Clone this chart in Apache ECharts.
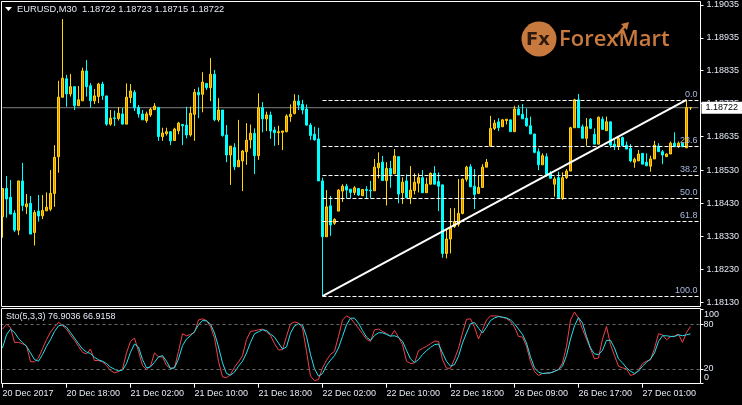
<!DOCTYPE html>
<html><head><meta charset="utf-8">
<script src="https://cdn.jsdelivr.net/npm/echarts@6/dist/echarts.min.js"></script>
<style>html,body{margin:0;padding:0;background:#000;}#c{width:742px;height:405px;}</style>
</head><body><div id="c"></div>
<script>
// ---- data (EURUSD M30 bars) ----
const tickLabels = ['20 Dec 2017','20 Dec 18:00','21 Dec 02:00','21 Dec 10:00','21 Dec 18:00','22 Dec 02:00','22 Dec 10:00','22 Dec 18:00','26 Dec 09:00','26 Dec 17:00','27 Dec 01:00'];
const barsPerTick = 16;
const priceTicks = [1.19035,1.18935,1.18835,1.18735,1.18635,1.18530,1.18430,1.18330,1.18230,1.18130];
const stochTicks = [100,80,20,0];
const stochLevels = [80,20];
const fibLevels = [0,23.6,38.2,50,61.8,100];
const fibLowBar = 80, fibHighBar = 171;
const bidPrice = 1.18722;
const emptySlots = 2;

const open = [1.18390,1.18476,1.18449,1.18401,1.18349,1.18499,1.18420,1.18431,1.18342,1.18407,
1.18393,1.18408,1.18413,1.18461,1.18573,1.18754,1.18810,1.18764,1.18786,1.18728,
1.18743,1.18834,1.18789,1.18743,1.18756,1.18794,1.18758,1.18672,1.18691,1.18689,
1.18703,1.18672,1.18753,1.18769,1.18723,1.18703,1.18683,1.18700,1.18716,1.18723,
1.18634,1.18643,1.18649,1.18622,1.18652,1.18671,1.18669,1.18639,1.18702,1.18769,
1.18763,1.18796,1.18783,1.18824,1.18685,1.18715,1.18639,1.18578,1.18601,1.18542,
1.18560,1.18588,1.18624,1.18644,1.18576,1.18722,1.18688,1.18700,1.18654,1.18646,
1.18647,1.18649,1.18695,1.18704,1.18742,1.18732,1.18718,1.18669,1.18641,1.18627,
1.18499,1.18329,1.18423,1.18370,1.18407,1.18468,1.18483,1.18474,1.18464,1.18476,
1.18454,1.18473,1.18471,1.18469,1.18539,1.18556,1.18500,1.18537,1.18521,1.18573,
1.18463,1.18499,1.18448,1.18470,1.18492,1.18509,1.18463,1.18489,1.18522,1.18497,
1.18487,1.18278,1.18322,1.18360,1.18367,1.18400,1.18504,1.18542,1.18483,1.18461,
1.18479,1.18541,1.18605,1.18659,1.18679,1.18664,1.18683,1.18685,1.18649,1.18718,
1.18702,1.18690,1.18667,1.18642,1.18588,1.18548,1.18573,1.18522,1.18489,1.18509,
1.18446,1.18509,1.18529,1.18661,1.18746,1.18664,1.18629,1.18687,1.18641,1.18611,
1.18687,1.18652,1.18679,1.18611,1.18606,1.18631,1.18608,1.18598,1.18556,1.18560,
1.18583,1.18556,1.18544,1.18566,1.18605,1.18588,1.18573,1.18581,1.18614,1.18603,
1.18614,1.18600,1.18722];
const high = [1.18476,1.18514,1.18502,1.18410,1.18499,1.18554,1.18459,1.18453,1.18410,1.18456,
1.18456,1.18464,1.18532,1.18608,1.18804,1.18992,1.18822,1.18825,1.18786,1.18788,
1.18844,1.18867,1.18797,1.18779,1.18798,1.18801,1.18758,1.18715,1.18713,1.18724,
1.18721,1.18796,1.18794,1.18776,1.18730,1.18715,1.18710,1.18722,1.18736,1.18723,
1.18661,1.18661,1.18651,1.18661,1.18679,1.18671,1.18725,1.18725,1.18779,1.18784,
1.18830,1.18796,1.18873,1.18837,1.18751,1.18715,1.18669,1.18605,1.18614,1.18685,
1.18593,1.18675,1.18671,1.18659,1.18766,1.18739,1.18710,1.18710,1.18664,1.18667,
1.18651,1.18702,1.18732,1.18763,1.18761,1.18746,1.18732,1.18675,1.18664,1.18661,
1.18509,1.18471,1.18453,1.18385,1.18474,1.18489,1.18490,1.18474,1.18483,1.18476,
1.18473,1.18483,1.18499,1.18566,1.18586,1.18575,1.18556,1.18560,1.18596,1.18573,
1.18510,1.18519,1.18544,1.18522,1.18522,1.18532,1.18509,1.18525,1.18544,1.18525,
1.18487,1.18353,1.18416,1.18416,1.18505,1.18507,1.18545,1.18550,1.18535,1.18517,
1.18550,1.18566,1.18697,1.18685,1.18690,1.18687,1.18687,1.18685,1.18728,1.18730,
1.18733,1.18720,1.18695,1.18642,1.18598,1.18583,1.18583,1.18529,1.18512,1.18527,
1.18525,1.18535,1.18664,1.18749,1.18764,1.18671,1.18690,1.18690,1.18659,1.18695,
1.18695,1.18695,1.18679,1.18624,1.18634,1.18634,1.18619,1.18611,1.18570,1.18593,
1.18583,1.18583,1.18576,1.18621,1.18614,1.18593,1.18583,1.18619,1.18647,1.18619,
1.18614,1.18746,1.18723];
const low = [1.18326,1.18387,1.18398,1.18343,1.18334,1.18407,1.18398,1.18337,1.18302,1.18375,
1.18383,1.18407,1.18407,1.18420,1.18524,1.18754,1.18725,1.18756,1.18715,1.18728,
1.18743,1.18756,1.18722,1.18733,1.18736,1.18746,1.18667,1.18667,1.18666,1.18683,
1.18672,1.18672,1.18736,1.18712,1.18692,1.18685,1.18676,1.18694,1.18716,1.18621,
1.18621,1.18637,1.18608,1.18622,1.18641,1.18608,1.18629,1.18634,1.18621,1.18690,
1.18708,1.18776,1.18742,1.18681,1.18679,1.18634,1.18556,1.18487,1.18532,1.18542,
1.18468,1.18548,1.18598,1.18520,1.18563,1.18647,1.18651,1.18627,1.18606,1.18608,
1.18593,1.18647,1.18679,1.18702,1.18715,1.18702,1.18667,1.18624,1.18622,1.18499,
1.18148,1.18328,1.18332,1.18365,1.18407,1.18435,1.18446,1.18446,1.18456,1.18453,
1.18454,1.18446,1.18446,1.18469,1.18507,1.18500,1.18424,1.18478,1.18521,1.18431,
1.18429,1.18448,1.18429,1.18458,1.18464,1.18463,1.18463,1.18489,1.18489,1.18407,
1.18265,1.18263,1.18278,1.18356,1.18360,1.18397,1.18497,1.18481,1.18413,1.18459,
1.18479,1.18541,1.18605,1.18654,1.18651,1.18664,1.18671,1.18649,1.18649,1.18700,
1.18688,1.18664,1.18642,1.18583,1.18532,1.18548,1.18512,1.18507,1.18451,1.18446,
1.18441,1.18505,1.18529,1.18661,1.18661,1.18629,1.18606,1.18659,1.18611,1.18611,
1.18656,1.18652,1.18600,1.18593,1.18593,1.18606,1.18596,1.18556,1.18539,1.18560,
1.18550,1.18545,1.18527,1.18566,1.18588,1.18550,1.18573,1.18581,1.18603,1.18600,
1.18603,1.18599,1.18715];
const close = [1.18476,1.18444,1.18398,1.18349,1.18499,1.18424,1.18429,1.18337,1.18403,1.18392,
1.18409,1.18419,1.18461,1.18571,1.18754,1.18812,1.18764,1.18786,1.18728,1.18746,
1.18834,1.18786,1.18743,1.18758,1.18794,1.18759,1.18672,1.18690,1.18689,1.18705,
1.18672,1.18754,1.18773,1.18722,1.18703,1.18685,1.18703,1.18717,1.18727,1.18634,
1.18645,1.18649,1.18621,1.18657,1.18675,1.18667,1.18639,1.18705,1.18769,1.18761,
1.18800,1.18783,1.18824,1.18685,1.18715,1.18637,1.18578,1.18605,1.18542,1.18562,
1.18590,1.18623,1.18644,1.18576,1.18722,1.18688,1.18700,1.18651,1.18646,1.18649,
1.18651,1.18697,1.18702,1.18742,1.18730,1.18715,1.18669,1.18637,1.18624,1.18499,
1.18329,1.18420,1.18365,1.18382,1.18471,1.18483,1.18471,1.18464,1.18478,1.18456,
1.18473,1.18470,1.18469,1.18541,1.18553,1.18500,1.18537,1.18519,1.18575,1.18459,
1.18495,1.18448,1.18471,1.18495,1.18509,1.18463,1.18489,1.18522,1.18489,1.18483,
1.18278,1.18322,1.18356,1.18375,1.18400,1.18504,1.18541,1.18481,1.18458,1.18479,
1.18541,1.18556,1.18659,1.18675,1.18661,1.18685,1.18687,1.18649,1.18718,1.18700,
1.18688,1.18667,1.18642,1.18586,1.18548,1.18576,1.18515,1.18507,1.18505,1.18448,
1.18509,1.18529,1.18661,1.18746,1.18661,1.18629,1.18664,1.18659,1.18611,1.18693,
1.18656,1.18679,1.18608,1.18603,1.18629,1.18606,1.18596,1.18560,1.18565,1.18581,
1.18550,1.18545,1.18566,1.18608,1.18588,1.18578,1.18581,1.18614,1.18603,1.18614,
1.18603,1.18722,1.18722];
const stochK = [73.3,80,75.5,55.5,55.5,53.7,51.1,29.7,29.3,34.6,
47.1,59.1,69.3,76.4,82.6,78.2,73.3,65.3,58.2,50.2,
42.2,40,46.6,31.1,31.1,29.3,24.4,17.7,14.6,16.4,
20,41.3,56.9,61.3,43.5,24.4,19.1,23.5,41.3,36,
36,24.4,20.8,21.3,43.5,67.1,64.4,66.2,68.8,85.7,
87.1,84.8,76.8,61.3,30.2,9.3,8,12.4,22.2,29.3,
37.7,59.1,70.2,71.1,72.4,73.3,69.7,64.8,53.7,45.3,
45.7,63.5,80.4,83.1,81.3,74.6,43.5,10.2,4,5.7,
21.3,31.5,39.5,43.5,63.5,85.7,91.1,88,81.3,74.6,
67.1,59.9,56.9,72.4,73.3,70.2,67.5,63.5,71.5,62.6,
52.4,30.2,27.1,28,44.4,47.5,50.2,53.7,57.3,56.9,
32.4,20.8,20.8,33.3,47.5,68,86.6,87.1,76,60,
72.4,85.7,91.1,91.1,90.6,89.3,87.5,83.5,76,63.5,
62.6,50.2,29.7,16.4,11.1,13.7,14.2,14.6,16.8,19.1,
27.8,50.2,85.7,96.4,88,73.3,60,46.6,33.3,34.6,
60,76.8,52.4,37.7,23.5,21.3,20,11.1,12.9,18.2,
27.1,30.2,32,47.5,67.1,65.7,59.1,63.1,64,66.6,
55.5,68.8,76.9];
const stochD = [48,65.7,73.3,68.8,60.8,55.5,50.2,41.3,32.4,30.2,
39.1,50.2,59.1,70.2,77.7,79.1,76,68.8,61.3,53.7,
46.6,42.6,40.4,35.5,32,30.2,27.1,22.2,19.5,17.3,
18.2,27.1,42.2,53.3,49.3,32.4,21.3,22.6,28.8,36,
37.7,30.2,20.4,21.3,33.3,51.1,60,64.4,70.2,79.1,
84.8,84.4,80,68,49.3,28,13.7,11.5,15.5,23.5,
30.2,41.3,55.5,67.1,69.7,72.4,71.5,66.6,62.6,54.6,
46.6,49.3,68,77.7,80.4,78.6,63.5,39.1,20,10.2,
13.7,24.4,31.5,37.7,48,63.5,79.1,88,88,81.3,
71.5,62.6,58.2,64.8,68.4,68.4,66.2,64,64.4,62.2,
56.9,44.9,33.3,28.4,32.4,39.1,44.4,48.8,52.4,53.3,
41.3,30.2,23.5,25.7,36.8,54.6,68,80.4,82.2,74.6,
68,76,84.8,88.4,90.2,89.3,88.4,85.7,80.4,73.3,
66.2,54.6,36,21.3,15.5,13.7,14.2,14.6,16.4,19.1,
23.5,37.7,60,77.7,88.8,81.3,63.5,48,40,39.1,
44.9,58.2,58.2,48,33.3,28,21.3,16.8,13.7,16.8,
23.5,28.8,33.3,41.3,56.9,64.4,64.4,63.5,63.5,65.7,
64.4,65.7,66.9];

// ---- chart ----
const n = open.length;
const slots = n + emptySlots;
const cats = Array.from({length: slots}, (_, i) => String(i));
const isTick = i => i % barsPerTick === 0 && (i / barsPerTick) < tickLabels.length;
const fibLo = low[fibLowBar], fibHi = high[fibHighBar];
const FONT = 'Liberation Sans';
const TXT = '#E4E9F5';
const candles = open.map((o, i) => [o, close[i], low[i], high[i]]);
const innerStoch = stochTicks.filter(v => v > 0 && v < 100);

// sub-window value range (grid spans slightly beyond 0..100, as in the terminal)
const subMin = -0.4, subMax = 101.7, subTop = 308, subH = 76;
const subY = v => subTop + (subMax - v) / (subMax - subMin) * subH;

const chart = echarts.init(document.getElementById('c'));
chart.setOption({
  backgroundColor: '#000',
  animation: false,
  grid: [
    {left: 0.5, width: 700, top: 2, height: 304, outerBoundsMode: 'none'},
    {left: 0.5, width: 700, top: subTop, height: subH, outerBoundsMode: 'none'}
  ],
  xAxis: [
    {type: 'category', gridIndex: 0, data: cats, boundaryGap: true,
     axisLine: {show: false}, axisTick: {show: false}, axisLabel: {show: false}, splitLine: {show: false}},
    {type: 'category', gridIndex: 1, data: cats, boundaryGap: true, axisLine: {show: false},
     axisTick: {show: true, alignWithLabel: true, interval: (i) => isTick(i), length: 4, lineStyle: {color: '#fff'}},
     axisLabel: {show: true, interval: (i) => isTick(i), formatter: (v, i) => tickLabels[i / barsPerTick] || '',
       align: 'left', margin: 5, color: TXT, fontSize: 9, fontFamily: FONT, hideOverlap: false},
     splitLine: {show: false}}
  ],
  yAxis: [
    {type: 'value', gridIndex: 0, position: 'right', min: 1.18118, max: 1.19044,
     splitLine: {show: false}, axisLine: {show: false},
     axisTick: {show: true, customValues: priceTicks, length: 3, lineStyle: {color: '#fff'}},
     axisLabel: {customValues: priceTicks, formatter: v => v.toFixed(5), color: TXT, fontSize: 9, fontFamily: FONT, margin: 6, hideOverlap: false}},
    {type: 'value', gridIndex: 1, position: 'right', min: subMin, max: subMax,
     splitLine: {show: false}, axisLine: {show: false},
     axisTick: {show: true, customValues: stochTicks, length: 3, lineStyle: {color: '#fff'}},
     axisLabel: {customValues: innerStoch, margin: 3, hideOverlap: false,
       color: TXT, fontSize: 9, fontFamily: FONT}}
  ],
  series: [
    {type: 'line', name: 'bid', xAxisIndex: 0, yAxisIndex: 0, z: 1, symbol: 'none', silent: true,
     data: [[0, bidPrice], [slots - 1, bidPrice]],
     lineStyle: {color: '#808080', width: 1},
     endLabel: {show: true, formatter: bidPrice.toFixed(5), backgroundColor: '#fff', color: '#000',
       padding: [2, 4, 1, 4], fontSize: 9, fontFamily: FONT, distance: 3}},
    {type: 'candlestick', xAxisIndex: 0, yAxisIndex: 0, data: candles, z: 2, barWidth: 2,
     itemStyle: {color: '#E8870E', color0: '#00FFFF', borderColor: '#FFD800', borderColor0: '#00FFFF', borderWidth: 1}},
    {type: 'line', name: 'trend', xAxisIndex: 0, yAxisIndex: 0, z: 3, symbol: 'none',
     data: [[fibLowBar, fibLo], [fibHighBar, fibHi]],
     lineStyle: {color: '#fff', width: 2},
     markLine: {silent: true, symbol: ['none', 'none'], animation: false,
       lineStyle: {color: '#fff', type: [4, 2], width: 1},
       label: {show: true, position: 'insideEndTop', color: '#A9B8DE', fontSize: 9, fontFamily: FONT, distance: 1},
       data: fibLevels.map(l => {
         const p = fibHi - (fibHi - fibLo) * l / 100;
         return [{coord: [fibLowBar, p], label: {formatter: l.toFixed(1)}}, {coord: [slots - 1, p]}];
       })}},
    {type: 'line', name: '%K', xAxisIndex: 1, yAxisIndex: 1, data: stochK, symbol: 'none', z: 2,
     lineStyle: {color: '#F0424C', width: 1},
     markLine: {silent: true, symbol: ['none', 'none'], animation: false, label: {show: false},
       lineStyle: {color: '#6A6A6A', type: [3, 3], width: 1},
       data: stochLevels.map(v => ({yAxis: v}))}},
    {type: 'line', name: '%D', xAxisIndex: 1, yAxisIndex: 1, data: stochD, symbol: 'none', z: 2,
     lineStyle: {color: '#22E2EE', width: 1}}
  ],
  graphic: [
    {type: 'rect', silent: true, z: 100, shape: {x: 1.5, y: 1.5, width: 699, height: 305},
     style: {fill: 'transparent', stroke: '#fff', lineWidth: 1}},
    {type: 'rect', silent: true, z: 100, shape: {x: 1.5, y: 308.5, width: 699, height: 75},
     style: {fill: 'transparent', stroke: '#fff', lineWidth: 1}},
    {type: 'polygon', silent: true, z: 100, shape: {points: [[5, 7], [12, 7], [8.5, 11]]}, style: {fill: '#fff'}},
    {type: 'text', silent: true, z: 100, style: {x: 17, y: 9, verticalAlign: 'middle',
      text: 'EURUSD,M30  ' + [open[n-1], high[n-1], low[n-1], close[n-1]].map(v => v.toFixed(5)).join(' '),
      fill: TXT, fontSize: 9.3, fontFamily: FONT}},
    {type: 'text', silent: true, z: 100, style: {x: 6, y: 317, verticalAlign: 'middle',
      text: 'Sto(5,3,3) 76.9036 66.9158', fill: TXT, fontSize: 9, fontFamily: FONT}},
    // outer stochastic scale labels (100 / 0), kept just inside the sub-window like the terminal does
    {type: 'text', silent: true, z: 100, style: {x: 704, y: subY(100) + 1, verticalAlign: 'top', text: String(stochTicks[0]), fill: TXT, fontSize: 9, fontFamily: FONT}},
    {type: 'text', silent: true, z: 100, style: {x: 704, y: subY(0) - 2, verticalAlign: 'bottom', text: String(stochTicks[3]), fill: TXT, fontSize: 9, fontFamily: FONT}},
    // ForexMart logo
    {type: 'circle', silent: true, z: 50, shape: {cx: 539, cy: 39, r: 17.5}, style: {fill: '#C8793D'}},
    {type: 'text', silent: true, z: 51, style: {x: 538, y: 40, align: 'center', verticalAlign: 'middle',
      text: 'Fx', fill: '#2E1A0C', fontSize: 18, fontWeight: 'bold', fontFamily: 'DejaVu Sans'}},
    {type: 'text', silent: true, z: 50, style: {x: 559, y: 40, verticalAlign: 'middle',
      text: 'ForexMart', fill: '#C8793D', fontSize: 22, fontWeight: 600, fontFamily: 'Open Sans'}},
    {type: 'polyline', silent: true, z: 50, shape: {points: [[616, 37], [625, 26]]}, style: {stroke: '#C8793D', lineWidth: 2.5}},
    {type: 'polygon', silent: true, z: 50, shape: {points: [[629, 22], [621, 24], [627, 30]]}, style: {fill: '#C8793D'}}
  ]
});
</script>
</body></html>
